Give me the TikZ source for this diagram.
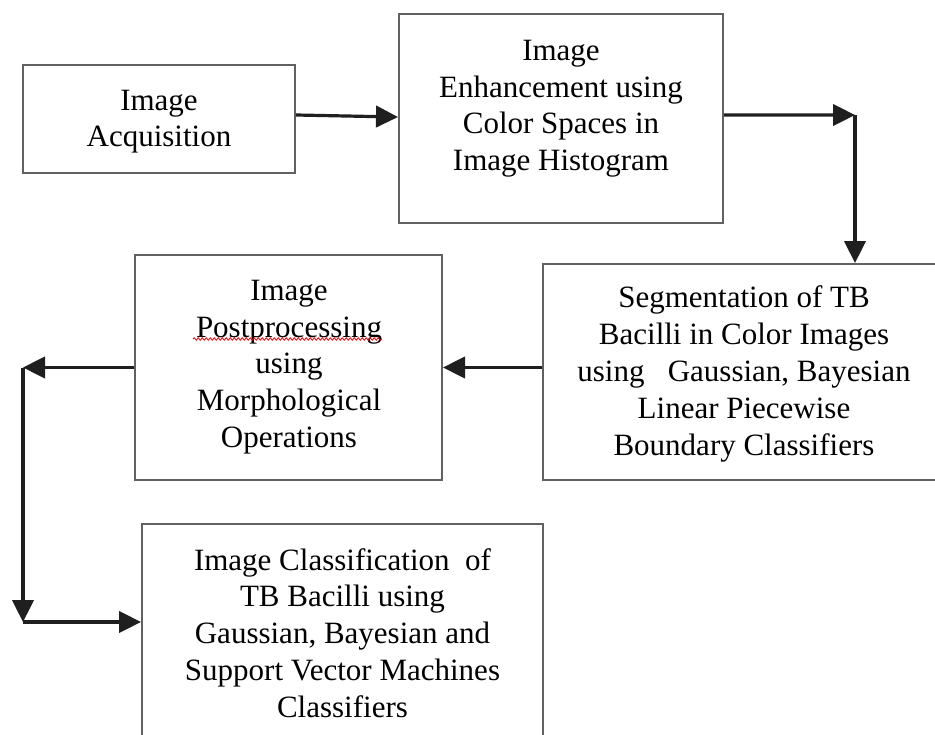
\documentclass[tikz,border=0pt]{standalone}
\usepackage{fontspec}
\setmainfont{Liberation Serif}
\usetikzlibrary{arrows.meta,decorations.pathmorphing}
\begin{document}
\begin{tikzpicture}[x=0.75pt,y=-0.75pt,
  boxnode/.style={draw=black!62,line width=1.5pt,rectangle,inner sep=0pt},
  txt/.style={align=center,inner sep=0pt,font=\fontsize{23.25pt}{27.6pt}\selectfont},
  arr/.style={draw=black!88,line width=2.4pt,-{Triangle[length=16.5pt,width=16pt]}}]
\useasboundingbox (0,0) rectangle (935,735);
\clip (0,0) rectangle (935,735);
% boxes
\node[boxnode,minimum width=272*0.75pt,minimum height=108*0.75pt] (A) at (159,119) {};
\node[boxnode,minimum width=324*0.75pt,minimum height=209*0.75pt] (B) at (561,118.5) {};
\node[boxnode,minimum width=402*0.75pt,minimum height=216*0.75pt] (C) at (744,372) {};
\node[boxnode,minimum width=307*0.75pt,minimum height=225*0.75pt] (D) at (288.5,367.5) {};
\node[boxnode,minimum width=401*0.75pt,minimum height=224*0.75pt] (E) at (342.5,636) {};
% texts
\node[txt] (At) at (159,121.6) {Image\\Acquisition};
\node[txt] (Bt) at (561,108.6) {Image\\Enhancement using\\Color Spaces in\\Image Histogram};
\node[txt] (Ct) at (744,374) {Segmentation of TB\\Bacilli in Color Images\\using\ \ \ Gaussian, Bayesian\\Linear Piecewise\\Boundary Classifiers};
\node[txt] (Dt) at (289,367) {Image\\Postprocessing\\using\\Morphological\\Operations};
\node[txt] (Et) at (342.5,633) {Image Classification\ \ of\\TB Bacilli using\\Gaussian, Bayesian and\\Support Vector Machines\\Classifiers};
% spell-check squiggle
\draw[red!90!black,line width=0.6pt,decorate,decoration={snake,amplitude=0.9pt,segment length=3pt}] (193,339) -- (382,339);
% corner points
\coordinate (k1) at (855,115);
\coordinate (k2) at (23,367.5);
\coordinate (k3) at (23,622);
% connectors
\draw[arr] ([yshift=3pt]A.east) -- ([yshift=1.1pt]B.west);
\draw[arr] ([yshift=2.6pt]B.east) -- (k1);
\draw[arr] (k1) -- (k1 |- C.north);
\draw[arr] (C.west |- D.east) -- (D.east);
\draw[arr] (D.west) -- (k2);
\draw[arr] (k2) -- (k3);
\draw[arr] (k3) -- (k3 -| E.west);
\end{tikzpicture}
\end{document}
